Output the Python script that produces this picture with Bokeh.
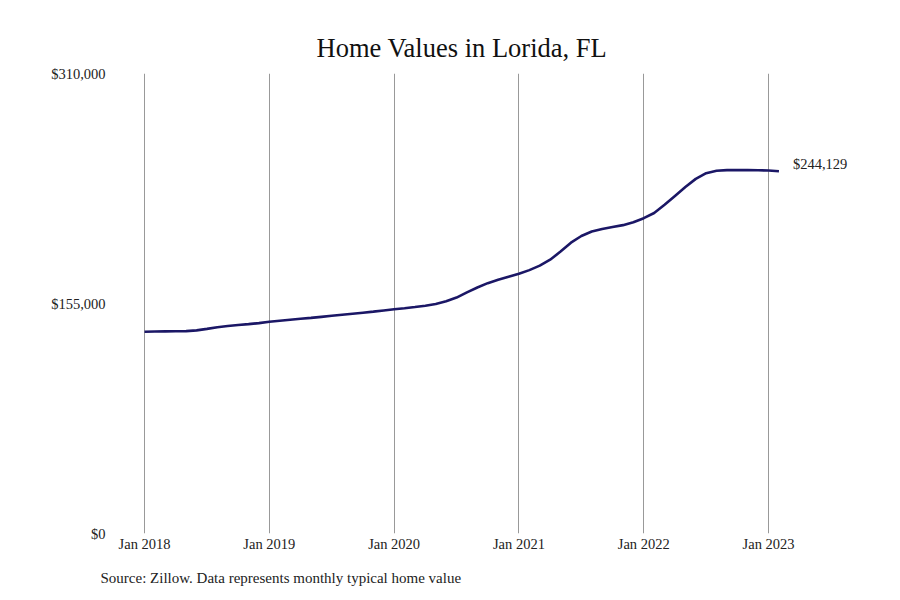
from bokeh.plotting import figure
from bokeh.models import FixedTicker, Range1d, Title
from bokeh.core.properties import value
from bokeh.embed import file_html
from bokeh.resources import INLINE

months = [f"{y}-{m:02d}" for y in range(2018, 2024) for m in range(1, 13)][:62]
home_values = [
    136000, 136100, 136200, 136300, 136400, 136900, 137900, 139000, 139800, 140500, 141100, 141800,
    142700, 143400, 144100, 144700, 145300, 146000, 146700, 147400, 148100, 148800, 149500, 150300,
    151100, 151800, 152600, 153500, 154700, 156500, 159000, 162500, 165800, 168700, 171000, 173000,
    175000, 177500, 180500, 184500, 190000, 196000, 200500, 203500, 205200, 206500, 207800, 209800,
    212500, 216000, 221500, 227500, 233500, 239000, 242800, 244500, 244900, 244900, 244900, 244800,
    244600, 244129,
]
tick_labels = ["Jan 2018", "Jan 2019", "Jan 2020", "Jan 2021", "Jan 2022", "Jan 2023"]
y_ticks = [0, 155000, 310000]
y_labels = ["$0", "$155,000", "$310,000"]
title_text = "Home Values in Lorida, FL"
source_text = "Source: Zillow. Data represents monthly typical home value"
end_label = "$244,129"

x = list(range(len(months)))
x_ticks = [12 * i for i in range(len(tick_labels))]

FONT = "Liberation Serif"

p = figure(width=884, height=599, output_backend="svg", toolbar_location=None,
           x_range=Range1d(-0.1, 68.84), y_range=Range1d(0, 310000),
           min_border_left=143, min_border_right=24, min_border_top=73, min_border_bottom=58)
p.outline_line_color = None
p.background_fill_color = "white"
p.border_fill_color = "white"

p.line(x, home_values, line_color="#1b1766", line_width=2.6)
p.text(x=[x[-1]], y=[home_values[-1]], text=[end_label], x_offset=14, y_offset=-7,
       text_font=value(FONT), text_font_size="14.5px", text_color="#222222",
       text_baseline="middle", text_align="left")

p.xaxis.ticker = FixedTicker(ticks=x_ticks)
p.xaxis.major_label_overrides = {t: l for t, l in zip(x_ticks, tick_labels)}
p.yaxis.ticker = FixedTicker(ticks=y_ticks)
p.yaxis.major_label_overrides = {t: l for t, l in zip(y_ticks, y_labels)}
for ax in (p.xaxis, p.yaxis):
    ax.axis_line_color = None
    ax.major_tick_line_color = None
    ax.minor_tick_line_color = None
    ax.major_tick_out = 0
    ax.major_tick_in = 0
    ax.minor_tick_out = 0
    ax.minor_tick_in = 0
    ax.major_label_text_font = FONT
    ax.major_label_text_font_size = "14.5px"
    ax.major_label_text_color = "#222222"
p.xaxis.major_label_standoff = 2
p.yaxis.major_label_standoff = 38

p.xgrid.ticker = FixedTicker(ticks=x_ticks)
p.xgrid.grid_line_color = "#999999"
p.xgrid.grid_line_width = 1
p.ygrid.grid_line_color = None

p.add_layout(Title(text=source_text, text_font=FONT, text_font_size="15px",
                   text_font_style="normal", text_color="#222222", align="left",
                   offset=-43, standoff=27), "below")
p.add_layout(Title(text=title_text, text_font=FONT, text_font_size="26.5px",
                   text_font_style="normal", text_color="#111111", align="left",
                   offset=173, standoff=22), "above")

open("out.html", "w").write(file_html(p, INLINE))
